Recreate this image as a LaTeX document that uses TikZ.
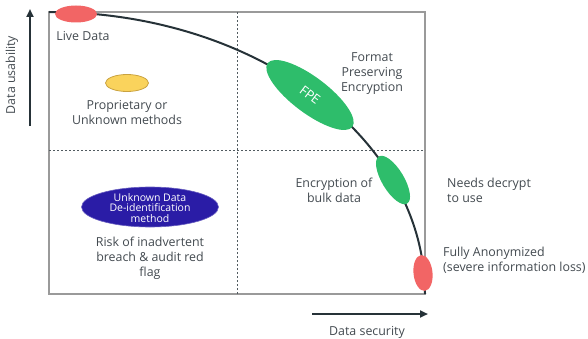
\documentclass[tikz,border=0pt]{standalone}
\usepackage{fontspec}
\setmainfont{Open Sans}
\usetikzlibrary{arrows.meta,shapes.geometric}
\definecolor{txt}{HTML}{434A50}
\definecolor{frame}{HTML}{9A9A9A}
\definecolor{curve}{HTML}{263238}
\definecolor{redfill}{HTML}{F26565}
\definecolor{greenfill}{HTML}{2EBD6B}
\definecolor{yellowfill}{HTML}{FAD35C}
\definecolor{yellowline}{HTML}{C9A240}
\definecolor{bluefill}{HTML}{2A1CA6}
\tikzset{
  lbl/.style={text=txt, font=\fontsize{12.4}{15}\selectfont, align=center, inner sep=0pt},
  lblleft/.style={lbl, align=left, anchor=west},
  blob/.style={ellipse, inner sep=0pt},
  axisarrow/.style={draw=curve, line width=2pt, -{Triangle[length=8pt,width=7pt]}},
  grid/.style={draw=curve!80, line width=0.7pt, dash pattern=on 2pt off 2pt},
}
\begin{document}
\begin{tikzpicture}[x=1pt,y=1pt]
\useasboundingbox (0,0) rectangle (588,338);
% quadrant frame
\draw[frame, line width=1.5pt] (49,44) rectangle (425,326);
\draw[grid] (237,44) -- (237,326);
\draw[grid] (49,188) -- (425,188);
% trade-off curve
\draw[curve, line width=2pt] (49,326) arc[start angle=90, end angle=0, x radius=376, y radius=282];
% methods on the curve
\node[blob, fill=redfill, minimum width=42pt, minimum height=17pt] (live) at (76,324) {};
\node[blob, fill=greenfill, minimum width=106pt, minimum height=36pt, rotate=-37] (fpe) at (310,243) {};
\node[text=white, font=\fontsize{13}{15}\selectfont, inner sep=0pt, rotate=-37] (fpetag) at (fpe.center) {FPE};
\node[blob, fill=greenfill, minimum width=55pt, minimum height=22pt, rotate=-59] (bulk) at (393,158) {};
\node[blob, fill=redfill, minimum width=36pt, minimum height=19pt, rotate=-84] (anon) at (423,65) {};
% methods off the curve
\node[blob, fill=yellowfill, draw=yellowline, line width=0.8pt, minimum width=43pt, minimum height=17pt] (prop) at (127,255) {};
\node[blob, fill=bluefill, draw=bluefill!70, line width=0.6pt, minimum width=137pt, minimum height=40pt] (unk) at (150,131) {};
\node[text=white, font=\fontsize{10.5}{10.5}\selectfont, align=center, inner sep=0pt] (unktxt) at (150,130)
  {Unknown Data\\De-identification\\method};
% labels
\node[lbl] (livetxt) at (83,302) {Live Data};
\node[lbl] (proptxt) at (127,225) {Proprietary or\\Unknown methods};
\node[lbl] (fpetxt) at (372,264) {Format\\Preserving\\Encryption};
\node[lbl] (bulktxt) at (334,148) {Encryption of\\bulk data};
\node[lblleft] (dectxt) at (447,148) {Needs decrypt\\to use};
\node[lblleft] (anontxt) at (443,78) {Fully Anonymized\\(severe information loss)};
\node[lbl] (risktxt) at (150,80) {Risk of inadvertent\\breach \& audit red\\flag};
% axes
\coordinate (ubot) at (30,212);
\coordinate (utop) at (30,329);
\draw[axisarrow] (ubot) -- (utop);
\node[lbl, rotate=90] (usab) at (12,263) {Data usability};
\coordinate (sleft) at (312,24);
\coordinate (sright) at (428,24);
\draw[axisarrow] (sleft) -- (sright);
\node[lbl] (sec) at (367,6) {Data security};
\end{tikzpicture}
\end{document}
